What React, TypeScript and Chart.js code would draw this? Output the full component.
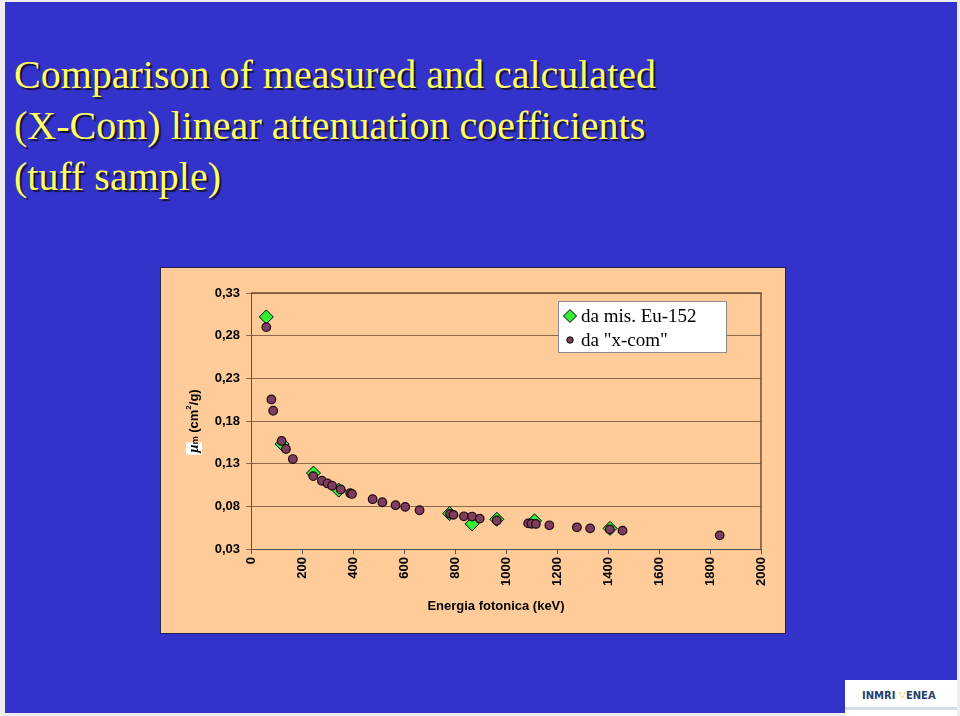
import React, { useEffect, useRef } from "react";
import { Chart, registerables } from "chart.js";

Chart.register(...registerables);

// ---------- data ----------
const titleLines = [
  "Comparison of measured and calculated",
  "(X-Com) linear attenuation coefficients",
  "(tuff sample)",
];

const seriesLabels = ["da mis. Eu-152", 'da "x-com"'];

// measured (Eu-152) energies in keV and mass attenuation coefficients
const measuredEnergy = [60, 122, 245, 344, 779, 867, 964, 1112, 1408];
const measuredMu = [0.302, 0.153, 0.119, 0.099, 0.0715, 0.0594, 0.0648, 0.063, 0.0542];

// calculated (X-Com) values
const xcomEnergy = [
  60, 80, 87, 120, 137, 164, 244, 278, 300, 318, 352, 389, 396, 477, 515, 567, 605, 661,
  781, 794, 835, 867, 897, 964, 1087, 1100, 1117, 1170, 1278, 1330, 1407, 1457, 1838,
];
const xcomMu = [
  0.29, 0.2053, 0.192, 0.1566, 0.1472, 0.1354, 0.1154, 0.11, 0.1068, 0.1041, 0.0998, 0.0954,
  0.0945, 0.0884, 0.0848, 0.0813, 0.0794, 0.0754, 0.0712, 0.07, 0.0683, 0.068, 0.0656, 0.0634,
  0.06, 0.0596, 0.0594, 0.0578, 0.0554, 0.0542, 0.053, 0.0515, 0.046,
];

const xTickValues = [0, 200, 400, 600, 800, 1000, 1200, 1400, 1600, 1800, 2000];
const yTickValues = [0.03, 0.08, 0.13, 0.18, 0.23, 0.28, 0.33];
const xTitle = "Energia fotonica (keV)";

// ---------- styles ----------
const BLUE = "#3333CC";
const PEACH = "#FFCC99";
const GREEN = "#33EE33";
const MAUVE = "#7E3C5E";
const GRID = "#8A6A48";
const SANS = "'Liberation Sans', Arial, sans-serif";
const SERIF = "'Liberation Serif', 'Times New Roman', serif";

const CANVAS_W = 624;
const CANVAS_H = 365;

const yFmt = (v: number) => v.toFixed(2).replace(".", ",");

const decorPlugin = {
  id: "decor",
  beforeDatasetsDraw(chart: any) {
    const { ctx, chartArea } = chart;
    ctx.save();
    ctx.strokeStyle = "#6E5030";
    ctx.lineWidth = 1.5;
    ctx.beginPath();
    ctx.moveTo(chartArea.left, chartArea.top);
    ctx.lineTo(chartArea.right, chartArea.top);
    ctx.lineTo(chartArea.right, chartArea.bottom);
    ctx.stroke();
    ctx.restore();
  },
  afterDraw(chart: any) {
    const { ctx, chartArea } = chart;
    ctx.save();

    // ---- x title ----
    ctx.fillStyle = "#000";
    ctx.font = `bold 13px ${SANS}`;
    ctx.textAlign = "center";
    ctx.textBaseline = "middle";
    ctx.fillText(xTitle, (chartArea.left + chartArea.right) / 2 - 10, 338);

    // ---- y title (rotated, with sub/superscript) ----
    const cx = 32;
    const cy = (chartArea.top + chartArea.bottom) / 2;
    ctx.translate(cx + 5, cy);
    ctx.rotate(-Math.PI / 2);
    ctx.textAlign = "left";
    ctx.textBaseline = "alphabetic";
    const pieces = [
      { t: "\u03bc", f: `bold italic 15px ${SERIF}`, dy: 0, box: true },
      { t: "m", f: `bold 9px ${SANS}`, dy: 0, box: false },
      { t: " (cm", f: `bold 13px ${SANS}`, dy: 0, box: false },
      { t: "2", f: `bold 8px ${SANS}`, dy: -7, box: false },
      { t: "/g)", f: `bold 13px ${SANS}`, dy: 0, box: false },
    ];
    let total = 0;
    const widths = pieces.map((p) => {
      ctx.font = p.f;
      const w = ctx.measureText(p.t).width;
      total += w;
      return w;
    });
    let x = -total / 2;
    pieces.forEach((p, i) => {
      ctx.font = p.f;
      if (p.box) {
        ctx.fillStyle = "#FFFFFF";
        ctx.fillRect(x - 2, -12, widths[i] + 4, 16);
      }
      ctx.fillStyle = "#000";
      ctx.fillText(p.t, x, p.dy);
      x += widths[i];
    });
    ctx.restore();

    // ---- legend ----
    ctx.save();
    const lx = 397;
    const ly = 33;
    const lw = 168;
    const lh = 51;
    ctx.fillStyle = "#FFFFFF";
    ctx.fillRect(lx, ly, lw, lh);
    ctx.strokeStyle = "#8C8C8C";
    ctx.lineWidth = 1;
    ctx.strokeRect(lx + 0.5, ly + 0.5, lw, lh);

    const mx = lx + 12;
    const r1y = ly + 15;
    const r2y = ly + 39;
    // diamond
    ctx.beginPath();
    ctx.moveTo(mx, r1y - 6.5);
    ctx.lineTo(mx + 6.5, r1y);
    ctx.lineTo(mx, r1y + 6.5);
    ctx.lineTo(mx - 6.5, r1y);
    ctx.closePath();
    ctx.fillStyle = GREEN;
    ctx.fill();
    ctx.strokeStyle = "#000";
    ctx.stroke();
    // circle
    ctx.beginPath();
    ctx.arc(mx, r2y, 3.2, 0, Math.PI * 2);
    ctx.fillStyle = MAUVE;
    ctx.fill();
    ctx.strokeStyle = "#000";
    ctx.stroke();

    ctx.fillStyle = "#000";
    ctx.font = `19px ${SERIF}`;
    ctx.textAlign = "left";
    ctx.textBaseline = "middle";
    ctx.fillText(seriesLabels[0], mx + 11, r1y + 1);
    ctx.fillText(seriesLabels[1], mx + 11, r2y + 1);
    ctx.restore();
  },
};

function ChartBox() {
  const ref = useRef<HTMLCanvasElement | null>(null);

  useEffect(() => {
    if (!ref.current) return;
    const chart = new Chart(ref.current, {
      type: "scatter",
      data: {
        datasets: [
          {
            label: seriesLabels[0],
            data: measuredEnergy.map((e, i) => ({ x: e, y: measuredMu[i] })),
            pointStyle: "rectRot",
            pointRadius: 7,
            pointBackgroundColor: GREEN,
            pointBorderColor: "#000",
            pointBorderWidth: 1,
            order: 2,
          },
          {
            label: seriesLabels[1],
            data: xcomEnergy.map((e, i) => ({ x: e, y: xcomMu[i] })),
            pointStyle: "circle",
            pointRadius: 4.3,
            pointBackgroundColor: MAUVE,
            pointBorderColor: "#1a0a10",
            pointBorderWidth: 1.2,
            order: 1,
          },
        ],
      },
      options: {
        animation: false,
        responsive: false,
        events: [],
        layout: { padding: { left: 0, top: 25, right: 24, bottom: 0 } },
        plugins: {
          legend: { display: false },
          tooltip: { enabled: false },
          title: { display: false },
        },
        scales: {
          x: {
            type: "linear",
            min: 0,
            max: 2000,
            afterBuildTicks: (s: any) => {
              s.ticks = xTickValues.map((v) => ({ value: v }));
            },
            afterFit: (s: any) => {
              s.height = 84;
            },
            ticks: {
              autoSkip: false,
              minRotation: 90,
              maxRotation: 90,
              padding: 3,
              color: "#000",
              font: { family: SANS, size: 13, weight: "bold" },
              callback: (v: any) => String(v),
            },
            grid: {
              drawOnChartArea: false,
              drawTicks: true,
              tickLength: 5,
              color: "#555",
            },
            border: { display: true, color: "#555", width: 1 },
            title: { display: false },
          },
          y: {
            type: "linear",
            min: 0.03,
            max: 0.33,
            afterBuildTicks: (s: any) => {
              s.ticks = yTickValues.map((v) => ({ value: v }));
            },
            afterFit: (s: any) => {
              s.width = 90;
            },
            ticks: {
              padding: 6,
              color: "#000",
              font: { family: SANS, size: 13, weight: "bold" },
              callback: (v: any) => yFmt(Number(v)),
            },
            grid: {
              drawOnChartArea: true,
              drawTicks: true,
              tickLength: 5,
              color: GRID,
              lineWidth: 1,
            },
            border: { display: true, color: "#555", width: 1 },
            title: { display: false },
          },
        },
      },
      plugins: [decorPlugin],
    } as any);
    return () => chart.destroy();
  }, []);

  return (
    <canvas
      ref={ref}
      width={CANVAS_W}
      height={CANVAS_H}
      style={{ display: "block", width: CANVAS_W, height: CANVAS_H }}
    />
  );
}

export default function App() {
  return (
    <div
      style={{
        position: "absolute",
        left: 0,
        top: 0,
        width: 960,
        height: 716,
        background: "#EEEEF2",
        overflow: "hidden",
      }}
    >
      <div
        style={{
          position: "absolute",
          left: 5,
          top: 2,
          width: 952,
          height: 711,
          background: BLUE,
        }}
      />
      <div
        style={{
          position: "absolute",
          left: 14,
          top: 49,
          fontFamily: SERIF,
          fontSize: 40,
          lineHeight: "51px",
          color: "#FFFF66",
          textShadow: "2px 2px 1px #141433",
          whiteSpace: "nowrap",
        }}
      >
        {titleLines.map((l, i) => (
          <div key={i}>{l}</div>
        ))}
      </div>
      <div
        style={{
          position: "absolute",
          left: 161,
          top: 268,
          width: CANVAS_W,
          height: CANVAS_H,
          background: PEACH,
          outline: "1px solid #22224A",
        }}
      >
        <ChartBox />
      </div>
      <div
        style={{
          position: "absolute",
          left: 845,
          top: 680,
          width: 112,
          height: 36,
          background: "#FFFFFF",
        }}
      >
        <div
          style={{
            position: "absolute",
            left: 17,
            top: 10,
            fontFamily: "'DejaVu Sans', sans-serif",
            fontWeight: "bold",
            fontSize: 10,
            color: "#24406E",
            whiteSpace: "nowrap",
          }}
        >
          INMRI <span style={{ color: "#F2D860" }}>&#8757;</span>ENEA
        </div>
        <div
          style={{
            position: "absolute",
            left: 0,
            top: 27,
            width: 112,
            height: 3,
            background: "#D8DCE4",
          }}
        />
      </div>
    </div>
  );
}
